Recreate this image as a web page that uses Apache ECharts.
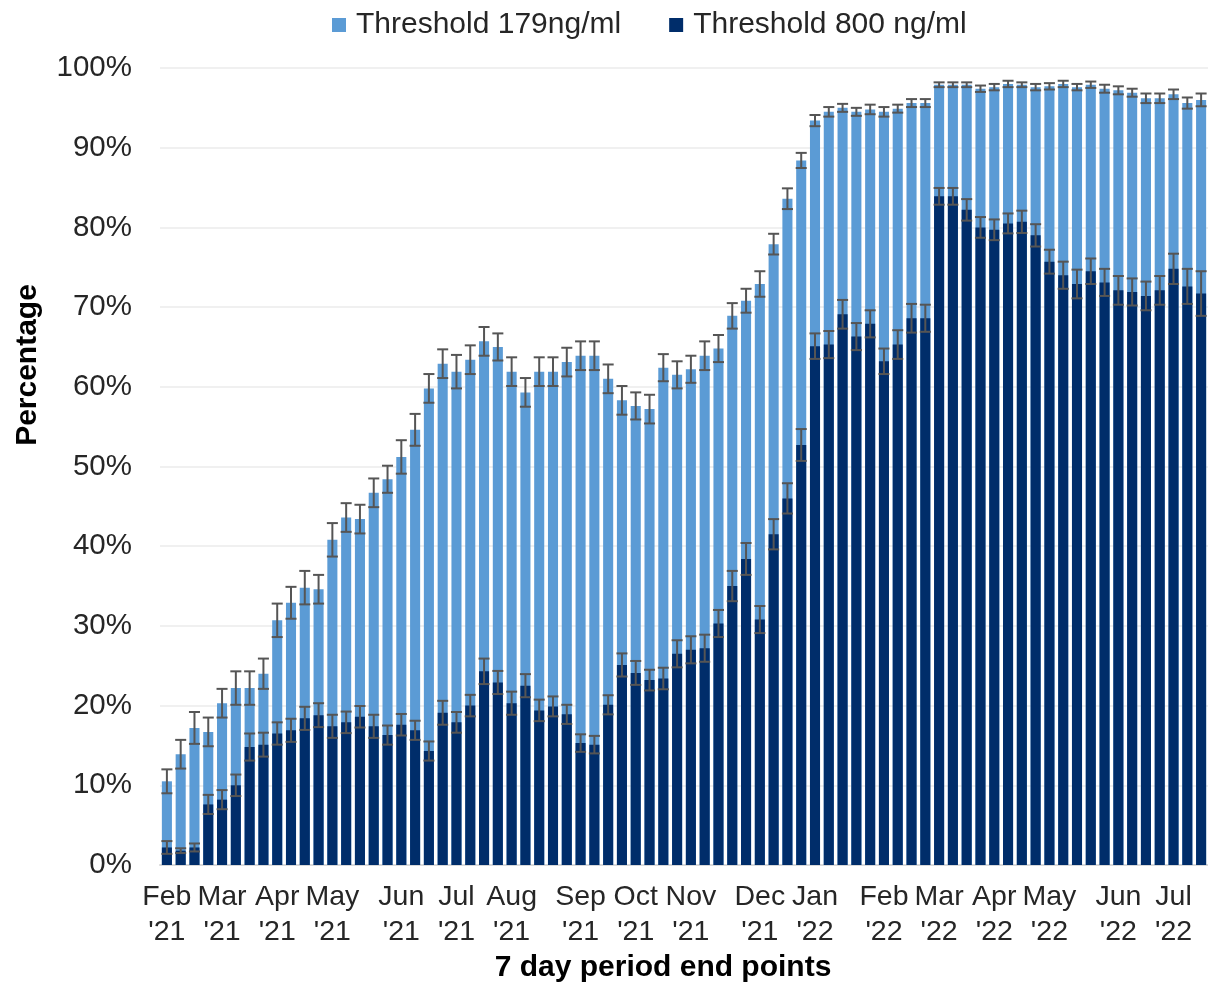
<!DOCTYPE html>
<html>
<head>
<meta charset="utf-8">
<script src="https://cdn.jsdelivr.net/npm/echarts@6/dist/echarts.min.js"></script>
<style>
  html, body { margin: 0; padding: 0; background: #fff; }
  #chart { width: 1208px; height: 984px; }
</style>
</head>
<body>
<div id="chart"></div>
<script>
// month labels and the week index they sit under
const monthLabels = ["Feb\n'21", "Mar\n'21", "Apr\n'21", "May\n'21", "Jun\n'21", "Jul\n'21", "Aug\n'21", "Sep\n'21", "Oct\n'21",
  "Nov\n'21", "Dec\n'21", "Jan\n'22", "Feb\n'22", "Mar\n'22", "Apr\n'22", "May\n'22", "Jun\n'22", "Jul\n'22"];
const monthWeek = [0, 4, 8, 12, 17, 21, 25, 30, 34, 38, 43, 47, 52, 56, 60, 64, 69, 73];
const weekCount = 76;

// % above 179 ng/ml
const t179 = [10.5, 13.9, 17.2, 16.7, 20.3, 22.2, 22.2, 24.0, 30.7, 32.9,
  34.8, 34.6, 40.8, 43.6, 43.4, 46.7, 48.4, 51.2, 54.6, 59.8,
  62.9, 61.9, 63.4, 65.7, 65.0, 61.9, 59.3, 61.9, 61.9, 63.1,
  63.9, 63.9, 61.0, 58.3, 57.6, 57.2, 62.4, 61.5, 62.2, 63.9,
  64.8, 68.9, 70.8, 72.9, 77.9, 83.6, 88.4, 93.4, 94.5, 95.0,
  94.5, 94.8, 94.5, 94.9, 95.6, 95.6, 97.9, 97.9, 97.9, 97.4,
  97.6, 98.0, 97.9, 97.6, 97.7, 98.0, 97.6, 97.9, 97.4, 97.2,
  96.9, 96.2, 96.2, 96.7, 95.6, 96.0];
const e179 = [1.5, 1.8, 2.0, 1.8, 1.8, 2.1, 2.1, 1.9, 2.1, 2.0,
  2.1, 1.8, 2.1, 1.8, 1.8, 1.8, 1.7, 2.1, 2.0, 1.8,
  1.8, 2.1, 1.8, 1.8, 1.7, 1.8, 1.8, 1.8, 1.8, 1.8,
  1.8, 1.8, 1.8, 1.8, 1.7, 1.8, 1.7, 1.7, 1.7, 1.8,
  1.7, 1.6, 1.5, 1.6, 1.3, 1.3, 0.95, 0.7, 0.6, 0.5,
  0.5, 0.6, 0.6, 0.5, 0.5, 0.5, 0.3, 0.3, 0.3, 0.4,
  0.4, 0.4, 0.3, 0.4, 0.4, 0.4, 0.4, 0.4, 0.5, 0.5,
  0.5, 0.6, 0.6, 0.6, 0.7, 0.8];

// % above 800 ng/ml
const t800 = [2.2, 1.8, 2.2, 7.6, 8.2, 10.0, 14.8, 15.1, 16.5, 16.9,
  18.4, 18.8, 17.4, 17.9, 18.6, 17.4, 16.3, 17.6, 16.9, 14.3,
  19.1, 17.9, 20.0, 24.3, 22.9, 20.3, 22.5, 19.4, 19.9, 18.9,
  15.3, 15.1, 20.1, 25.1, 24.1, 23.2, 23.4, 26.5, 27.0, 27.2,
  30.3, 35.0, 38.4, 30.8, 41.5, 46.0, 52.7, 65.1, 65.3, 69.1,
  66.3, 67.9, 63.2, 65.3, 68.6, 68.6, 83.9, 83.9, 82.2, 80.0,
  79.7, 80.5, 80.7, 79.0, 75.7, 74.0, 72.9, 74.5, 73.1, 72.1,
  71.9, 71.4, 72.1, 74.8, 72.6, 71.7];
const e800 = [0.8, 0.3, 0.5, 1.2, 1.2, 1.35, 1.7, 1.5, 1.4, 1.45,
  1.45, 1.5, 1.45, 1.35, 1.35, 1.45, 1.2, 1.35, 1.2, 1.2,
  1.5, 1.3, 1.35, 1.6, 1.45, 1.45, 1.45, 1.35, 1.25, 1.2,
  1.1, 1.1, 1.2, 1.45, 1.5, 1.3, 1.35, 1.7, 1.7, 1.7,
  1.7, 1.9, 2.0, 1.7, 1.9, 1.9, 2.0, 1.6, 1.7, 1.8,
  1.7, 1.7, 1.6, 1.8, 1.8, 1.7, 1.05, 1.05, 1.35, 1.3,
  1.3, 1.25, 1.4, 1.4, 1.5, 1.7, 1.8, 1.6, 1.7, 1.8,
  1.7, 1.8, 1.8, 1.9, 2.2, 2.8];

const font = "'Liberation Sans', Arial, sans-serif";
const textColor = "#262626";

let categories = [];
for (let i = 0; i < weekCount; i++) {
  let k = monthWeek.indexOf(i);
  categories.push(k >= 0 ? monthLabels[k] : "");
}

function errData(vals, errs) {
  return vals.map((v, i) => [i, v - errs[i], v + errs[i]]);
}

function renderErr(params, api) {
  let x = api.value(0);
  let lo = api.coord([x, api.value(1)]);
  let hi = api.coord([x, api.value(2)]);
  let half = api.size([1, 0])[0] * 0.4;
  let style = { stroke: "#555555", lineWidth: 2 };
  return {
    type: "group",
    children: [
      { type: "line", shape: { x1: lo[0], y1: lo[1], x2: hi[0], y2: hi[1] }, style: style },
      { type: "line", shape: { x1: hi[0] - half, y1: hi[1], x2: hi[0] + half, y2: hi[1] }, style: style },
      { type: "line", shape: { x1: lo[0] - half, y1: lo[1], x2: lo[0] + half, y2: lo[1] }, style: style }
    ]
  };
}

let myChart = echarts.init(document.getElementById("chart"));
let option = {
  animation: false,
  textStyle: { fontFamily: font },
  legend: {
    top: 5,
    left: 327,
    icon: "rect",
    itemWidth: 14,
    itemHeight: 14,
    itemGap: 48,
    textStyle: { fontSize: 30, color: textColor, fontFamily: font, padding: [0, 0, 0, 5] },
    data: ["Threshold 179ng/ml", "Threshold 800 ng/ml"]
  },
  grid: { left: 160, right: 0, top: 68, bottom: 119, containLabel: false },
  xAxis: {
    type: "category",
    data: categories,
    axisTick: { show: false },
    axisLine: { lineStyle: { color: "#d9d9d9", width: 2 } },
    axisLabel: {
      interval: 0,
      margin: 15,
      fontSize: 28.5,
      lineHeight: 35,
      color: textColor,
      fontFamily: font
    }
  },
  yAxis: {
    type: "value",
    min: 0,
    max: 100,
    interval: 10,
    axisLine: { show: false },
    axisTick: { show: false },
    splitLine: { lineStyle: { color: "#ebebeb", width: 1.5 } },
    axisLabel: {
      formatter: "{value}%",
      margin: 28,
      fontSize: 29.5,
      color: textColor,
      fontFamily: font
    }
  },
  graphic: [
    {
      type: "text",
      x: 28,
      y: 365,
      rotation: Math.PI / 2,
      style: {
        text: "Percentage",
        font: "bold 30px " + font,
        fill: "#000",
        textAlign: "center",
        textVerticalAlign: "middle"
      }
    },
    {
      type: "text",
      x: 663,
      y: 968,
      style: {
        text: "7 day period end points",
        font: "bold 30px " + font,
        fill: "#000",
        textAlign: "center",
        textVerticalAlign: "middle"
      }
    }
  ],
  series: [
    {
      name: "Threshold 179ng/ml",
      type: "bar",
      data: t179,
      barWidth: "73%",
      barGap: "-100%",
      itemStyle: { color: "#5b9bd5" },
      z: 2
    },
    {
      name: "Threshold 800 ng/ml",
      type: "bar",
      data: t800,
      barWidth: "73%",
      barGap: "-100%",
      itemStyle: { color: "#002d6a" },
      z: 3
    },
    {
      type: "custom",
      renderItem: renderErr,
      encode: { x: 0, y: [1, 2] },
      data: errData(t179, e179),
      z: 5
    },
    {
      type: "custom",
      renderItem: renderErr,
      encode: { x: 0, y: [1, 2] },
      data: errData(t800, e800),
      z: 5
    }
  ]
};
myChart.setOption(option);
</script>
</body>
</html>
